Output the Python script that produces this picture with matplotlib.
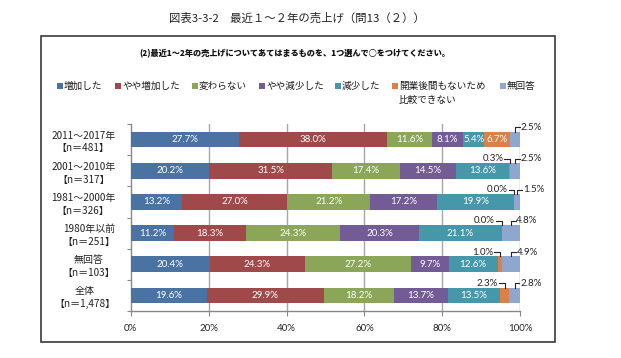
import matplotlib
matplotlib.use("Agg")
import matplotlib.pyplot as plt
from matplotlib.patches import Rectangle
import numpy as np

plt.rcParams['font.family'] = ['Noto Sans CJK JP', 'DejaVu Sans']

categories = ["2011～2017年\n【n＝481】", "2001～2010年\n【n＝317】", "1981～2000年\n【n＝326】",
              "1980年以前\n【n＝251】", "無回答\n【n＝103】", "全体\n【n＝1,478】"]
series = ["増加した", "やや増加した", "変わらない", "やや減少した", "減少した", "開業後間もないため\n比較できない", "無回答"]
zoka = [27.7, 20.2, 13.2, 11.2, 20.4, 19.6]
yaya_zoka = [38.0, 31.5, 27.0, 18.3, 24.3, 29.9]
kawaranai = [11.6, 17.4, 21.2, 24.3, 27.2, 18.2]
yaya_gensho = [8.1, 14.5, 17.2, 20.3, 9.7, 13.7]
gensho = [5.4, 13.6, 19.9, 21.1, 12.6, 13.5]
kaigyo = [6.7, 0.3, 0.0, 0.0, 1.0, 2.3]
mukaito = [2.5, 2.5, 1.5, 4.8, 4.9, 2.8]
xticks = [0, 20, 40, 60, 80, 100]
xticklabels = ["0%", "20%", "40%", "60%", "80%", "100%"]

colors = ["#4A73A4", "#A0494B", "#8BA659", "#735B96", "#4697AA", "#DB8147", "#8FA7CE"]
data = [zoka, yaya_zoka, kawaranai, yaya_gensho, gensho, kaigyo, mukaito]

W, H = 621, 358
fig = plt.figure(figsize=(W / 100, H / 100), dpi=100)

def fx(x):
    return x / W

def fy(y):
    return 1 - y / H

# outer frame
fig.patches.append(Rectangle((fx(40.5), fy(342)), fx(555) - fx(40.5), fy(36) - fy(342),
                             transform=fig.transFigure, fill=False, edgecolor="#3a3a3a", lw=1.2))

fig.text(fx(297), fy(18), "図表3-3-2　最近１～２年の売上げ（問13（２））", ha="center", va="center",
         fontsize=8.2, color="#222222")
fig.text(fx(295), fy(53), "(2)最近1～2年の売上げについてあてはまるものを、1つ選んで○をつけてください。",
         ha="center", va="center", fontsize=5.9, fontweight="heavy", color="#111111")

# legend
leg_x = [57, 115, 192, 259, 335, 392, 500]
for lx, lab, c in zip(leg_x, series, colors):
    fig.patches.append(Rectangle((fx(lx), fy(89)), 6 / W, 6 / H, transform=fig.transFigure,
                                 facecolor=c, edgecolor="none"))
    lines = lab.split("\n")
    fig.text(fx(lx + 7), fy(86), lines[0], ha="left", va="center", fontsize=6.9, color="#1a1a1a")
    if len(lines) > 1:
        fig.text(fx(lx + 7), fy(100), lines[1], ha="left", va="center", fontsize=6.9, color="#1a1a1a")

ax = fig.add_axes([fx(130.7), fy(311), (520.2 - 130.7) / W, (311 - 124) / H])
y = np.arange(len(categories))
left = np.zeros(len(categories))
bar_h = 0.5
for vals, c in zip(data, colors):
    vals = np.array(vals)
    ax.barh(y, vals, left=left, height=bar_h, color=c, edgecolor="none", zorder=3)
    left = left + vals
ax.set_ylim(len(categories) - 0.5, -0.5)
ax.set_xlim(0, 100)

num_font = ["Lato", "DejaVu Sans"]
# labels
for i in range(len(categories)):
    cum = 0.0
    for k, vals in enumerate(data):
        v = vals[i]
        xc = cum + v / 2
        if v >= 5:
            ax.text(xc, y[i], f"{v:.1f}%", ha="center", va="center", color="white",
                    fontsize=7, family=num_font, zorder=4)
        else:
            top = y[i] - bar_h / 2
            elb = top - 0.14
            if k == 5:
                ax.plot([xc, xc, xc - 1.4], [top, elb, elb], color="#222222", lw=0.8, zorder=4,
                        clip_on=False)
                ax.text(xc - 1.7, elb, f"{v:.1f}%", ha="right", va="center", color="#222222",
                        fontsize=7, family=num_font, clip_on=False)
            else:
                ax.plot([xc, xc, xc + 1.2], [top, elb, elb], color="#222222", lw=0.8, zorder=4,
                        clip_on=False)
                ax.text(xc + 1.4, elb, f"{v:.1f}%", ha="left", va="center", color="#222222",
                        fontsize=7, family=num_font, clip_on=False)
        cum += v

# grid and axes styling
for gx in xticks[1:]:
    ax.axvline(gx, color="#A6A6A6", lw=1.0, zorder=1)
ax.set_xticks(xticks)
ax.set_xticklabels(xticklabels, fontsize=7, family=num_font, color="#222222")
ax.tick_params(axis="x", length=3.5, color="#888888", pad=6)
ax.set_yticks(np.arange(-0.5, len(categories) + 0.5, 1))
ax.set_yticklabels([])
ax.tick_params(axis="y", which="major", length=3, color="#888888")
ax.set_yticks(y, minor=True)
ax.set_yticklabels(categories, minor=True, fontsize=7.2, color="#222222", multialignment="center",
                   linespacing=1.35)
ax.tick_params(axis="y", which="minor", length=0, pad=11)
for s in ["top", "right"]:
    ax.spines[s].set_visible(False)
ax.spines["left"].set_color("#888888")
ax.spines["bottom"].set_color("#888888")
ax.spines["left"].set_linewidth(1.0)
ax.spines["bottom"].set_linewidth(1.0)

fig.savefig("out.png", dpi=100)
